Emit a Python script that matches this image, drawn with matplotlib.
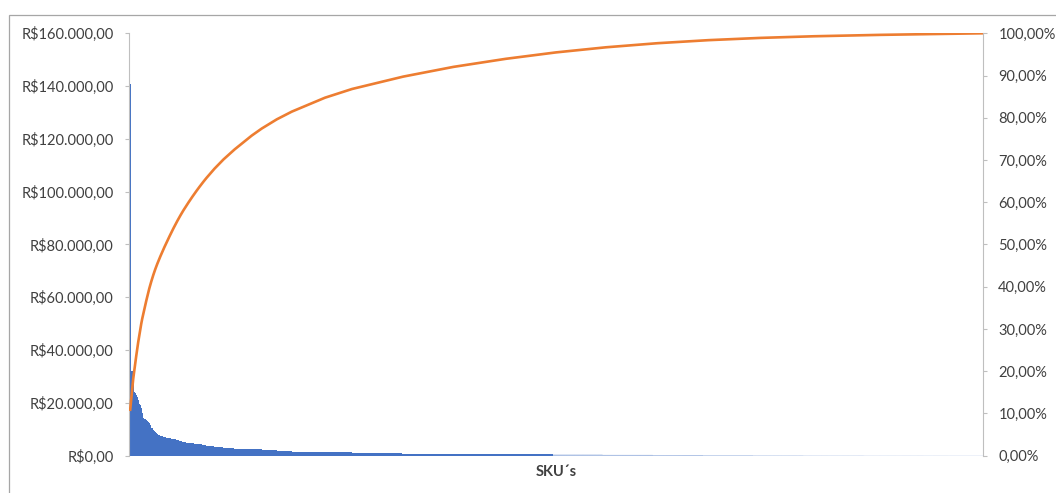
import numpy as np
import matplotlib
matplotlib.use("Agg")
import matplotlib.pyplot as plt
from matplotlib.patches import Rectangle
from matplotlib.ticker import FuncFormatter

plt.rcParams['font.family'] = ['Lato', 'DejaVu Sans']

# faturamento por SKU, ordenado do maior para o menor
head_sales = [140600, 32000, 31800, 31000, 23800, 23400, 22600, 22200, 20800, 19200,
              18900, 17700, 15800, 14000, 13800, 13500, 13200, 12900, 12700, 12000,
              11300, 10300, 10100, 9700, 9200, 8800, 8400, 8000, 7700, 7500,
              7300, 7200, 7100, 6900, 6800, 6700]

# cauda longa: valor aproximado por faixa e quantidade de SKUs na faixa
tail_levels = [6600, 6400, 6200, 6000, 5700, 5400, 5100, 4900,
               4700, 4500, 4300, 4100, 3900, 3600, 3200, 2800, 2500,
               2200, 1900, 1600, 1300, 1000, 750, 600, 480, 400,
               320, 250, 190, 140, 100, 70, 50, 45]
tail_counts = [2, 3, 3, 2, 3, 3, 2, 2,
               4, 4, 4, 4, 4, 8, 9, 11, 17,
               10, 15, 15, 33, 27, 50, 50, 50, 50,
               50, 50, 50, 50, 50, 60, 60, 59]

left_ticks = [0, 20000, 40000, 60000, 80000, 100000, 120000, 140000, 160000]
right_ticks = [0, 0.1, 0.2, 0.3, 0.4, 0.5, 0.6, 0.7, 0.8, 0.9, 1.0]

sales = np.concatenate([head_sales, np.repeat(tail_levels, tail_counts)])
cum_pct = np.cumsum(sales) / sales.sum()
x = np.arange(len(sales))

text_color = '#404040'
axis_gray = '#bfbfbf'


def brl(v, pos=None):
    s = f"{v:,.2f}".replace(",", "X").replace(".", ",").replace("X", ".")
    return "R$" + s


def pct(v, pos=None):
    return f"{v * 100:.2f}%".replace(".", ",")


fig = plt.figure(figsize=(10.56, 4.93), dpi=100)
ax = fig.add_axes([129 / 1056, 37.4 / 493, (983 - 129) / 1056, (455.6 - 33.3) / 493])

# ~1 px por SKU: barras sem suavização ficam listradas; as muito baixas
# (menos de 1 px) ficam suavizadas para aparecer como linha fina
bars = ax.bar(x, sales, width=0.8, color='#4472C4', linewidth=0)
for b, v in zip(bars, sales):
    b.set_snap(False)
    b.set_antialiased(v < 400)
ax.set_xlim(-1.2, len(sales) - 0.5)
ax.set_ylim(0, 160000)
ax.set_yticks(left_ticks)
ax.yaxis.set_major_formatter(FuncFormatter(brl))
ax.set_xticks([])
ax.set_xlabel("SKU´s", fontsize=10.5, fontweight='bold', color=text_color, labelpad=7)

ax2 = ax.twinx()
ax2.plot(x, cum_pct, color='#ED7D31', linewidth=1.9)
ax2.set_ylim(0, 1)
ax2.set_yticks(right_ticks)
ax2.yaxis.set_major_formatter(FuncFormatter(pct))

for a in (ax, ax2):
    for side in ('top', 'bottom'):
        a.spines[side].set_visible(False)
    a.spines['left'].set_color(axis_gray)
    a.spines['right'].set_color(axis_gray)
    a.tick_params(axis='y', colors=axis_gray, labelcolor=text_color,
                  labelsize=10.5, length=3, width=0.8, pad=8)
ax.spines['right'].set_visible(False)
ax2.spines['left'].set_visible(False)

# moldura do gráfico
fig.add_artist(Rectangle((9 / 1056, -0.1), 1.2, 1 - 15 / 493 + 0.1,
                         transform=fig.transFigure, fill=False,
                         edgecolor='#a6a6a6', linewidth=0.9, clip_on=False))

fig.savefig("out.png", dpi=100)
